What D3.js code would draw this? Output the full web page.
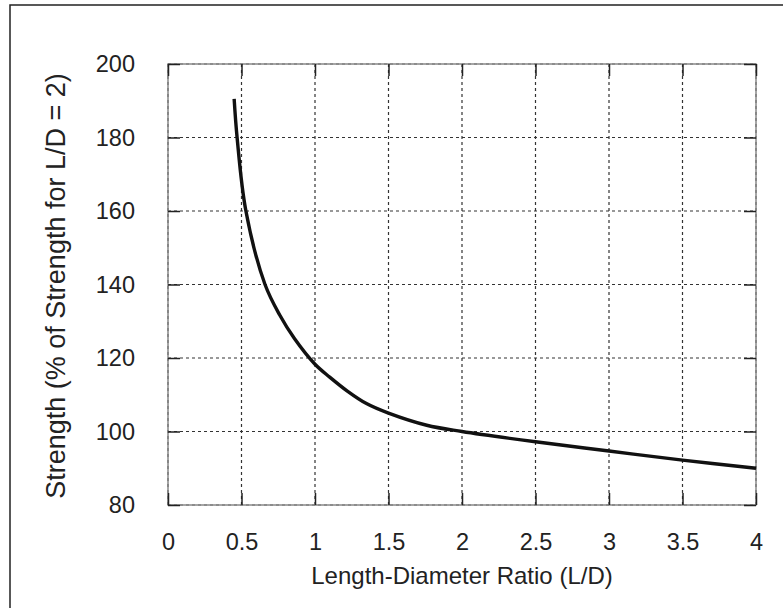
<!DOCTYPE html>
<html lang="en">
<head>
    <meta charset="UTF-8">
    <script src="https://cdn.jsdelivr.net/npm/d3@7/dist/d3.min.js"></script>
    <title>Strength vs L/D</title>
    <style>
        body { margin: 0; background: #fff; }
        text { font-family: "Liberation Sans", Arial, sans-serif; fill: #222; }
    </style>
</head>
<body>
    <script>
        // curve
        var ratio    = [0.45, 0.47, 0.53, 0.66, 0.76, 0.86, 1.00, 1.10, 1.22, 1.35, 1.50, 1.76, 2.00, 2.50, 3.00, 3.50, 4.00];
        var strength = [190.5, 180, 160, 140, 131.7, 125.3, 118.3, 114.8, 111.0, 107.6, 105.0, 101.7, 100.0, 97.2, 94.7, 92.2, 90.0];
        var xTicks = [0, 0.5, 1, 1.5, 2, 2.5, 3, 3.5, 4];
        var yTicks = [80, 100, 120, 140, 160, 180, 200];

        var width = 783, height = 608;
        var pLeft = 168, pRight = 756, pTop = 64, pBottom = 505;

        var x = d3.scaleLinear().domain([0, 4]).range([pLeft, pRight]);
        var y = d3.scaleLinear().domain([80, 200]).range([pBottom, pTop]);

        var svg = d3.select("body").append("svg").attr("width", width).attr("height", height);

        // outer frame of the figure
        svg.append("rect").attr("x", 10).attr("y", 5).attr("width", 790).attr("height", 620)
            .style("fill", "none").style("stroke", "#222").style("stroke-width", 1.5);

        // dashed grid
        svg.append("g").selectAll("line").data(xTicks).enter().append("line")
            .attr("x1", function (d) { return x(d); }).attr("x2", function (d) { return x(d); })
            .attr("y1", pTop).attr("y2", pBottom)
            .style("stroke", "#333").style("stroke-width", 1.2).style("stroke-dasharray", "3,3");
        svg.append("g").selectAll("line").data(yTicks).enter().append("line")
            .attr("x1", pLeft).attr("x2", pRight)
            .attr("y1", function (d) { return y(d); }).attr("y2", function (d) { return y(d); })
            .style("stroke", "#333").style("stroke-width", 1.2).style("stroke-dasharray", "3,3");

        // plot box
        svg.append("rect").attr("x", pLeft).attr("y", pTop).attr("width", pRight - pLeft).attr("height", pBottom - pTop)
            .style("fill", "none").style("stroke", "#888").style("stroke-width", 1.5);

        // axes with inward ticks
        var tick = 12;
        svg.append("g").attr("transform", "translate(0," + pBottom + ")")
            .call(d3.axisBottom(x).tickValues(xTicks).tickSize(-tick).tickPadding(tick + 16).tickFormat(d3.format("")))
            .call(function (g) { g.select(".domain").remove(); });
        svg.append("g").attr("transform", "translate(0," + pTop + ")")
            .call(d3.axisTop(x).tickValues(xTicks).tickSize(-tick).tickFormat(""))
            .call(function (g) { g.select(".domain").remove(); });
        svg.append("g").attr("transform", "translate(" + pLeft + ",0)")
            .call(d3.axisLeft(y).tickValues(yTicks).tickSize(-tick).tickPadding(tick + 21))
            .call(function (g) { g.select(".domain").remove(); });
        svg.append("g").attr("transform", "translate(" + pRight + ",0)")
            .call(d3.axisRight(y).tickValues(yTicks).tickSize(-tick).tickFormat(""))
            .call(function (g) { g.select(".domain").remove(); });

        svg.selectAll(".tick line").style("stroke", "#222").style("stroke-width", 1.5);
        svg.selectAll(".tick text").style("font-size", "23.5px").style("fill", "#222")
            .style("font-family", "'Liberation Sans', Arial, sans-serif");

        // the curve
        var pts = ratio.map(function (r, i) { return [r, strength[i]]; });
        var line = d3.line().x(function (d) { return x(d[0]); }).y(function (d) { return y(d[1]); })
            .curve(d3.curveCatmullRom.alpha(0.5));
        svg.append("path").datum(pts).attr("d", line)
            .style("fill", "none").style("stroke", "#111").style("stroke-width", 3.4);

        // axis titles
        svg.append("text").attr("x", (pLeft + pRight) / 2).attr("y", 584)
            .attr("text-anchor", "middle").style("font-size", "24px")
            .text("Length-Diameter Ratio (L/D)");
        svg.append("text").attr("transform", "translate(65," + 286 + ") rotate(-90)")
            .attr("text-anchor", "middle").style("font-size", "27px")
            .text("Strength (% of Strength for L/D = 2)");
    </script>
</body>
</html>
